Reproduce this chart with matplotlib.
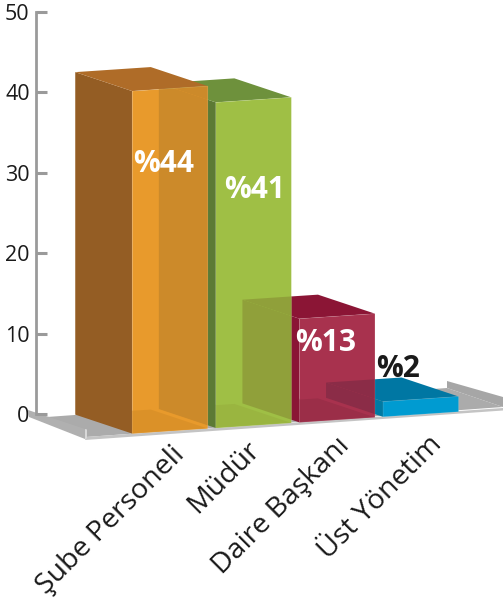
from matplotlib import pyplot as plt
from matplotlib.patches import Polygon

categories = ["Şube Personeli", "Müdür", "Daire Başkanı", "Üst Yönetim"]
values = [42.6, 40.5, 12.9, 1.9]
percent_labels = ["%44", "%41", "%13", "%2"]
percent_colors = ["white", "white", "white", "#1a1a1a"]
y_ticks = [0, 10, 20, 30, 40, 50]

front_colors = ["#E89A2C", "#9FBF45", "#A8324E", "#009BD1"]
side_colors = ["#945D24", "#5C7A35", "#8A1535", "#007AA3"]
top_colors = ["#AF6C28", "#6E913C", "#8B1535", "#0077A3"]
bottom_colors = ["#DB9128", "#9AB540", "#9B2E48", "#009BD1"]
overlap_colors = ["#CC8A2A", "#90A03A", "#8B2C47"]

# pixel layout of the picture
W, H = 503, 606
ZERO_PX = 414
PX_PER_VALUE = 8.04
FIRST_CENTER_PX = 170
PX_PER_CATEGORY = 83.6
BAR_WIDTH = 75.5 / PX_PER_CATEGORY
DEPTH_X = -57 / PX_PER_CATEGORY
DEPTH_Y = 19 / PX_PER_VALUE
SLOPE = 0.067 * PX_PER_CATEGORY / PX_PER_VALUE
BASE_AT_FIRST = (ZERO_PX - 431.1) / PX_PER_VALUE


def px(x, y):
    return ((x - FIRST_CENTER_PX) / PX_PER_CATEGORY, (ZERO_PX - y) / PX_PER_VALUE)


def floor_y(x):
    return BASE_AT_FIRST + SLOPE * x


def box_faces(i):
    x0 = i - BAR_WIDTH / 2
    x1 = i + BAR_WIDTH / 2
    y0 = floor_y(x0)
    y1 = floor_y(x1)
    v = values[i]
    fl, fr = (x0, y0), (x1, y1)
    tl, tr = (x0, y0 + v), (x1, y1 + v)
    bl = (x0 + DEPTH_X, y0 + DEPTH_Y)
    br = (x1 + DEPTH_X, y1 + DEPTH_Y)
    btl = (bl[0], bl[1] + v)
    btr = (br[0], br[1] + v)
    return {
        "front": [fl, fr, tr, tl],
        "side": [fl, tl, btl, bl],
        "top": [tl, tr, btr, btl],
        "bottom": [fl, fr, br, bl],
    }


fig = plt.figure(figsize=(W / 100, H / 100), dpi=100)
plt.rcParams["font.family"] = ["Open Sans", "DejaVu Sans"]
ax = fig.add_axes([0, 0, 1, 1])
ax.set_xlim(px(0, 0)[0], px(W, 0)[0])
ax.set_ylim(px(0, H)[1], px(0, 0)[1])

# gray floor plate
floor_parts = [
    ([(47, 417), (447, 388), (503, 407), (86, 437)], "#ABABAB"),
    ([(28, 410), (85, 429), (85, 439), (29, 417)], "#B0B0B0"),
    ([(447, 381), (447, 388), (503, 407), (503, 397)], "#A6A6A6"),
    ([(85, 437), (503, 408), (503, 410.5), (85, 440)], "#C4C4C4"),
    ([(85, 429), (87, 429.5), (87, 438), (85, 440)], "#D8D8D8"),
]
for points, color in floor_parts:
    ax.add_patch(Polygon([px(*p) for p in points], closed=True, fc=color, ec="none", zorder=1))

# value axis
for name in ["top", "right", "bottom"]:
    ax.spines[name].set_visible(False)
ax.spines["left"].set_position(("data", px(36, 0)[0]))
ax.spines["left"].set_bounds(0, 50)
ax.spines["left"].set_color("#9A9A9A")
ax.spines["left"].set_linewidth(2.0)
ax.spines["left"].set_zorder(2)
ax.set_xticks([])
ax.set_yticks(y_ticks)
ax.tick_params(axis="y", direction="in", length=8, width=2.2, color="#9A9A9A",
               labelsize=15.5, labelcolor="#1a1a1a", pad=4.5)
ax.patch.set_visible(False)

# boxes, back to front: each one hides the next box's side
z = 3
for i in reversed(range(len(values))):
    faces = box_faces(i)
    ax.add_patch(Polygon(faces["side"], closed=True, fc=side_colors[i], ec="none", zorder=z))
    ax.add_patch(Polygon(faces["top"], closed=True, fc=top_colors[i], ec="none", zorder=z))
    front = Polygon(faces["front"], closed=True, fc=front_colors[i], ec="none", zorder=z + 0.1)
    ax.add_patch(front)
    if values[i] > 5:
        band = Polygon(faces["bottom"], closed=True, fc=bottom_colors[i], ec="none", zorder=z + 0.2)
        ax.add_patch(band)
        band.set_clip_path(front)
    # next box seen through this one
    if i + 1 < len(values):
        nxt = box_faces(i + 1)
        for face in ["side", "top"]:
            through = Polygon(nxt[face], closed=True, fc=overlap_colors[i], ec="none", zorder=z + 0.3)
            ax.add_patch(through)
            through.set_clip_path(front)
    # lighter seams along the box
    ax.add_patch(Polygon(faces["front"], closed=True, fc="none", ec="white", lw=0.5, alpha=0.15, zorder=z + 0.4))
    z += 1

label_px = [(164, 164), (255, 190), (326, 343), (398, 369)]
for text, color, pos in zip(percent_labels, percent_colors, label_px):
    ax.text(*px(*pos), text, color=color, fontsize=21.5, fontweight="bold", ha="center", va="center", zorder=20)

end_px = [(180, 451), (256, 446), (346, 442), (438, 440)]
for name, pos in zip(categories, end_px):
    ax.text(*px(*pos), name, color="#1a1a1a", fontsize=20.5, rotation=45, rotation_mode="anchor",
            ha="right", va="center", zorder=20)

fig.savefig("out.png", dpi=100)
